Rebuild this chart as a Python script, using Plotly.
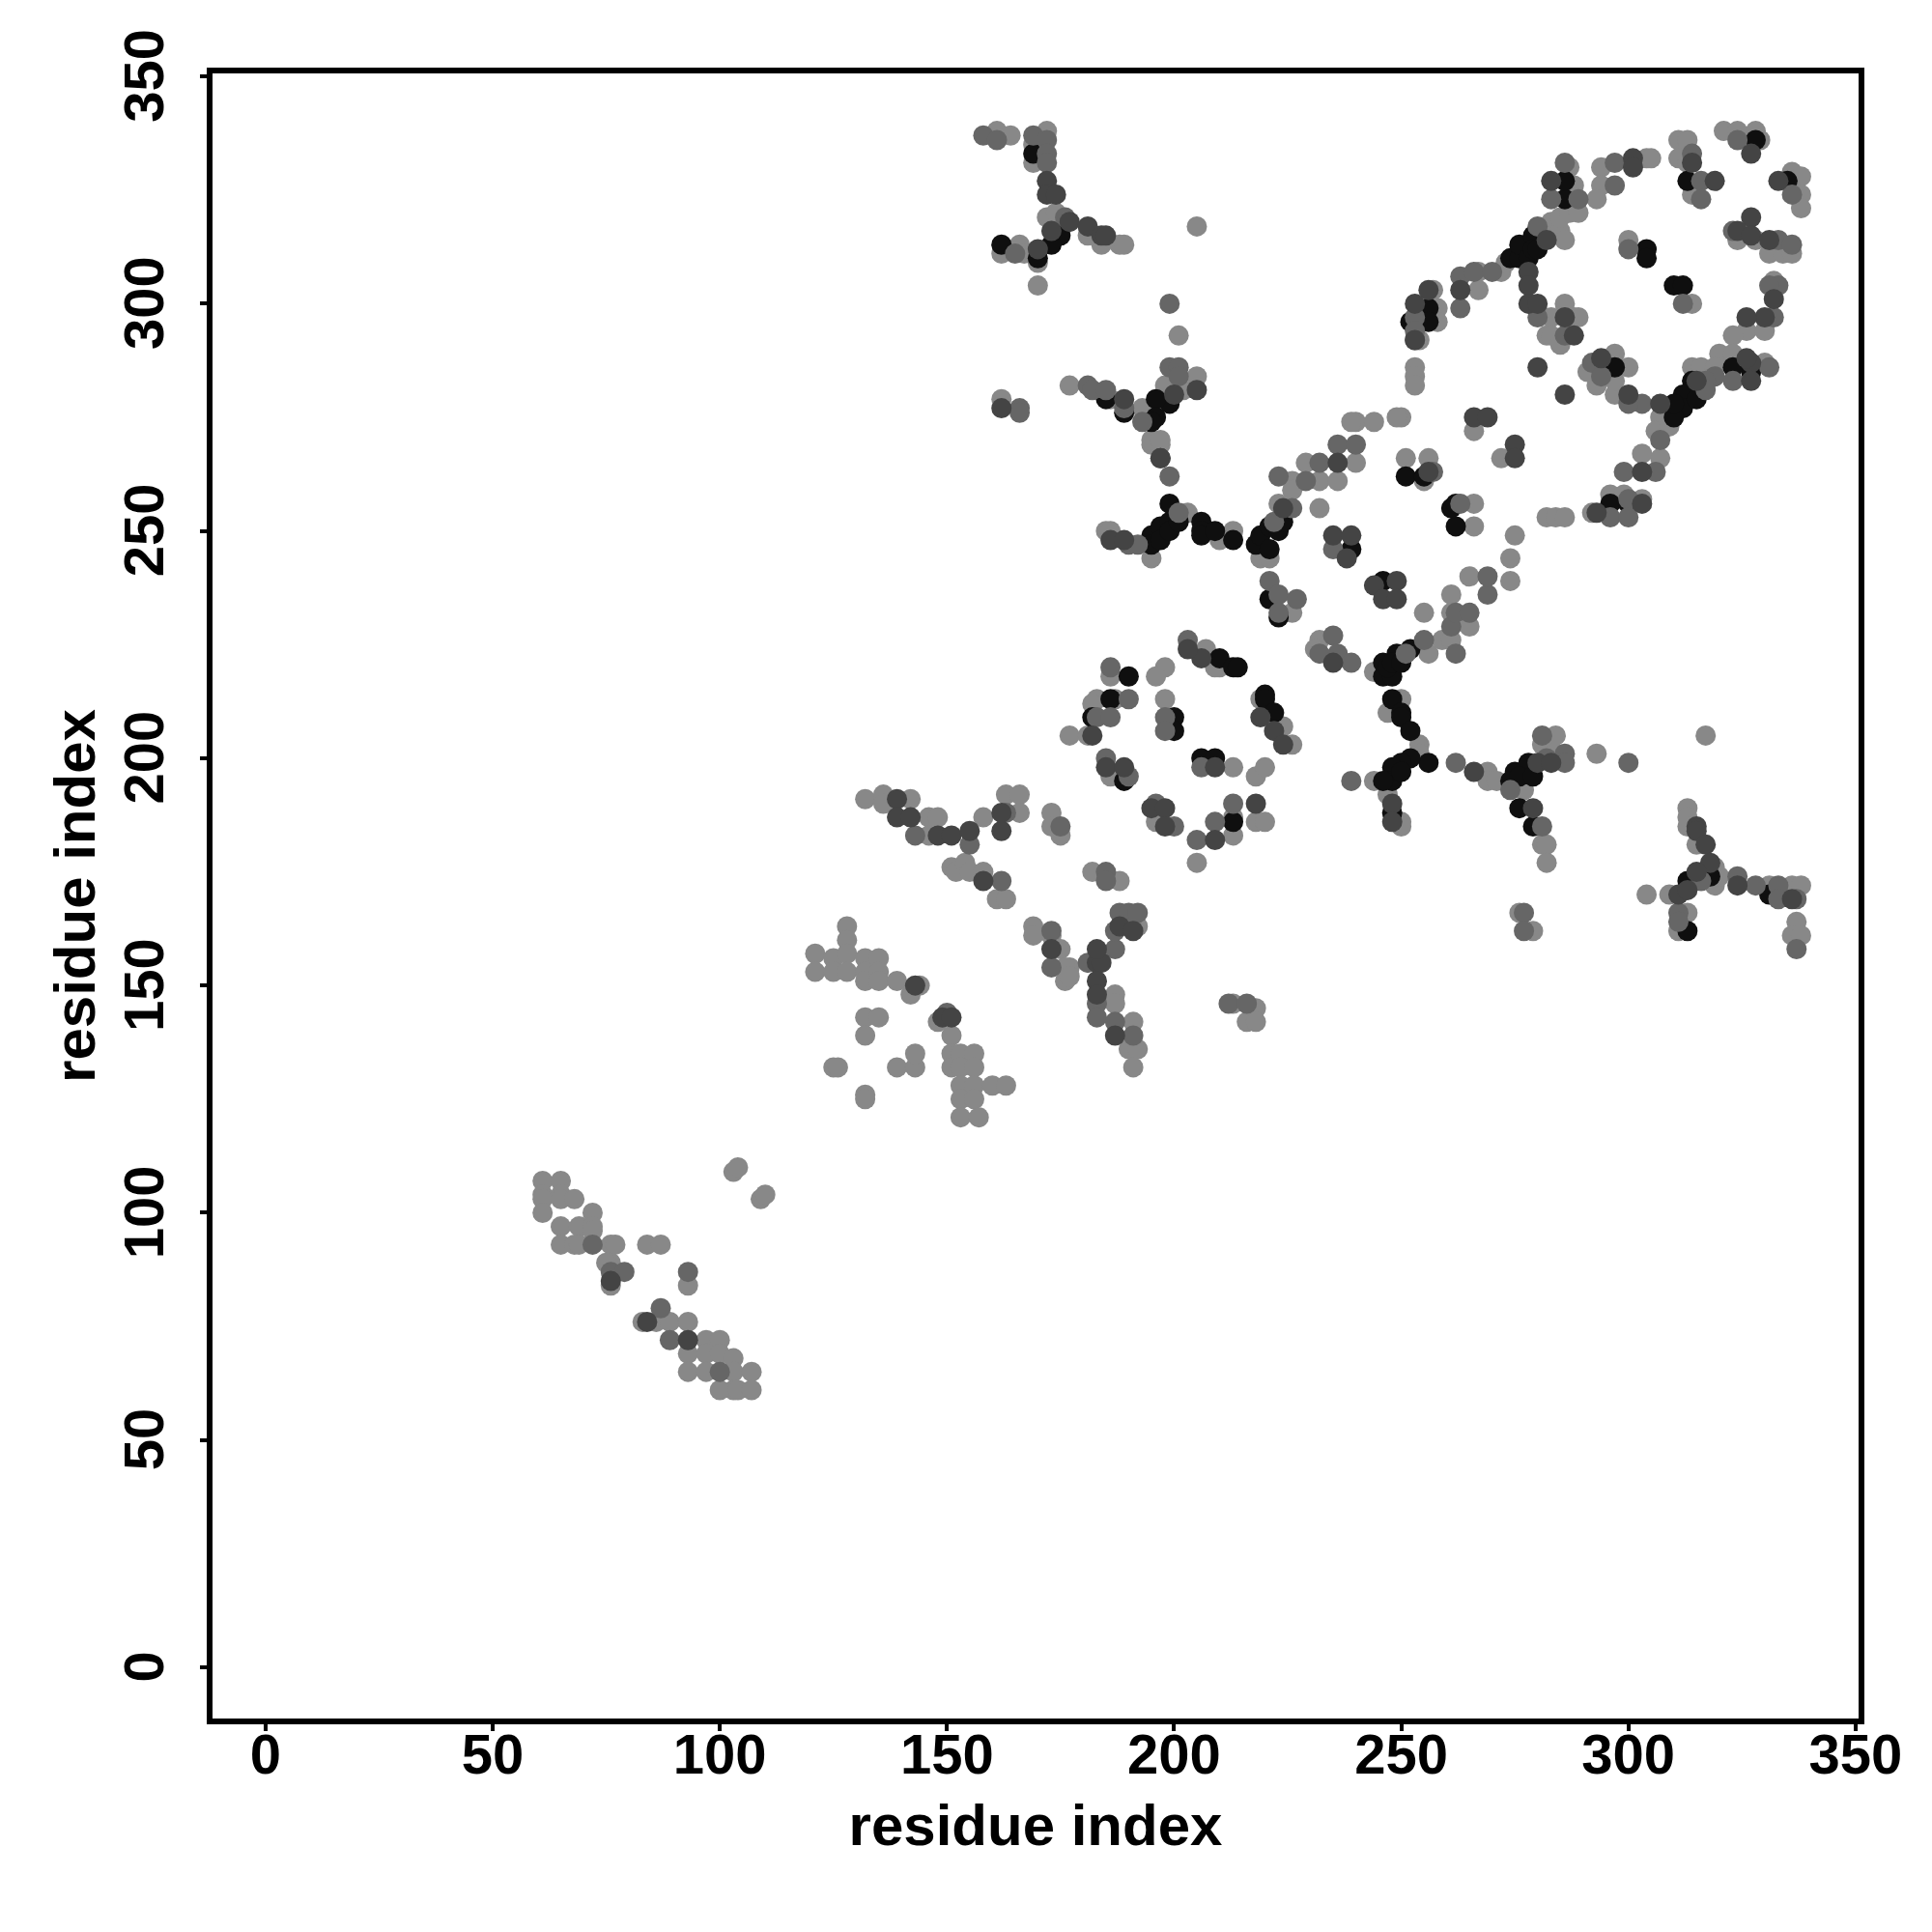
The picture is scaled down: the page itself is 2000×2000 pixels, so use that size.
import plotly.graph_objects as go

TICKS = [0, 50, 100, 150, 200, 250, 300, 350]
AXIS_LABEL = "residue index"

gray_points = [
(61,107),(61,104),(61,103),(61,100),(65,107),(65,104),(65,103),(65,97),(65,93),(68,103),(69,97),(68,93),(69,93),(72,100),(72,97),(72,96),(76,93),(77,93),(76,89),(75,89),(76,84),
(84,93),(87,93),(93,84),(83,76),(86,76),(89,76),(93,76),(93,69),(93,65),(97,72),(97,69),(97,65),(100,72),(100,69),(103,68),(103,65),(103,61),(100,61),(104,61),(107,65),(107,61),
(103,109),(104,110),(109,103),(110,104),
(132,191),(136,192),(136,190),(142,191),(146,187),(148,187),(146,183),(158,187),(163,192),(166,192),(166,188),
(173,188),(173,185),(175,183),(182,175),(188,173),(151,176),(152,175),(154,177),(155,175),(158,175),(161,169),(163,169),
(169,163),(169,161),(173,161),(175,158),(176,151),(177,154),(176,154),(177,152),(192,163),(187,148),(187,146),(191,142),(190,136),(192,136),(191,132),
(128,163),(128,160),(121,157),(121,153),(125,156),(125,153),(128,157),(128,153),(132,156),(132,153),(132,151),(135,156),(135,153),(135,151),(139,151),(144,150),(142,148),
(132,143),(135,143),(132,139),(148,142),(151,139),(151,135),(151,132),(153,135),(153,132),(156,135),(156,132),(153,128),(153,125),(156,128),(156,125),(160,128),(163,128),(153,121),(157,121),
(125,132),(126,132),(139,132),(143,132),(143,135),(132,126),(132,125),(213,146),(218,145),(216,142),(218,142),
(186,218),(198,220),(196,218),(207,224),(210,220),(209,220),(219,213),(224,207),(226,203),(198,213),(187,213),(183,213),(182,212),(177,205),(181,205),(186,196),
(213,198),(218,196),(220,198),(218,186),(220,186),(213,187),(213,183),(205,177),(196,186),
(195,269),(197,269),(195,244),(203,254),(210,248),(213,250),(185,250),(186,250),(219,244),(221,244),(223,256),(232,255),(226,261),(226,259),(229,265),(232,261),(236,261),(240,265),
(251,266),(256,266),(266,256),(266,251),(255,232),(226,232),(232,226),(231,224),(244,219),(256,223),(259,226),(261,226),(265,229),(261,232),(261,236),(265,240),
(257,303),(258,299),(258,296),(254,292),(253,286),(253,284),(253,282),(267,307),(267,303),(272,307),(273,309),(283,318),(285,316),(286,314),(285,319),(287,320),(289,320),(288,326),(287,330),
(283,297),(286,300),(288,297),(289,297),(282,293),(283,293),(285,291),(294,330),(294,326),(293,323),(304,332),(305,332),
(311,336),(313,336),(311,332),(313,331),(314,324),(321,338),(324,338),(328,338),(329,336),(336,329),(338,328),(338,324),(338,321),
(324,314),(328,314),(331,311),(334,311),(336,311),(300,314),(314,300),(266,272),(272,266),(250,275),(255,261),
(275,249),(274,244),(274,239),(332,305),(326,294),(330,294),(323,293),(320,289),(323,289),(330,287),(314,286),(316,286),(319,286),
(297,280),(307,275),(306,272),(307,266),(303,267),(309,273),(291,285),(293,282),(297,289),(300,286),(297,283),(296,288),
(296,258),(292,254),(299,258),(303,257),(282,253),(284,253),(286,253),
(161,338),(164,337),(172,338),(169,335),(169,331),(172,319),(174,320),(170,309),(170,304),(162,311),(166,313),(167,311),(181,315),(184,313),(188,313),(189,313),(205,317),
(201,293),(205,284),(202,281),(198,282),(177,282),(186,279),(193,277),(195,270),(197,270),(162,279),
(240,274),(239,274),(244,274),(249,275),(250,213),(247,210),(254,203),(254,201),(244,195),(247,192),(250,186),(250,185),
(269,197),(269,195),(271,195),(284,205),(281,203),(284,201),(277,193),(281,181),(282,181),(282,177),(293,201),(317,205),
(276,166),(279,162),(313,189),(313,187),(313,185),(315,181),(319,176),(319,172),(320,174),(331,172),(336,172),(338,172),
(304,170),(309,170),(313,166),(311,162),(337,164),(336,161),(338,161),
]

mid_points = [
(72,93),(76,87),(79,87),(93,87),(87,79),(89,72),(100,65),
(143,183),(155,181),(163,188),(175,185),(185,175),(185,173),(162,173),(173,162),(173,154),(181,155),(187,158),(187,162),(188,166),(190,166),(192,166),
(183,146),(183,143),(187,142),(191,139),(150,144),(212,146),(216,146),
(186,220),(203,226),(198,209),(198,206),(190,213),(183,209),(186,209),(185,200),(190,196),(206,198),(213,190),(209,186),(205,182),(196,190),(200,185),
(199,262),(201,254),(190,247),(192,247),(222,252),(226,255),(223,262),(229,261),(232,265),(236,269),(240,269),(257,263),(263,256),(235,246),
(221,239),(223,236),(227,235),(223,232),(235,227),(232,223),(236,223),(239,221),(251,223),(255,226),(262,223),(261,229),(262,232),(265,232),(269,236),(269,240),
(253,297),(253,294),(253,292),(263,306),(263,299),(266,307),(270,307),(280,317),(289,323),(283,323),(286,331),(280,297),(286,293),
(297,331),(297,326),(314,333),(316,327),(316,323),(324,336),(336,324),(323,316),(333,314),(336,313),(300,312),(312,300),
(333,304),(331,304),(332,297),(323,283),(331,286),(319,284),(317,283),(317,281),(303,278),(300,278),(307,270),(299,263),(306,263),
(292,287),(294,284),(300,257),(296,253),(300,253),
(158,337),(161,336),(169,337),(172,336),(172,333),(172,331),(176,319),(165,311),
(199,300),(199,286),(201,286),(201,284),(181,282),(182,281),(185,281),(189,277),(193,274),(166,277),(166,276),
(239,195),(262,199),(300,199),(281,205),(282,200),(286,201),(286,199),(274,193),(281,185),(277,166),(277,162),
(316,173),(324,174),(328,172),(333,172),(333,169),(337,169),(311,166),(311,164),(337,158),
]

dark_points = [
(76,85),(84,76),(93,72),
(139,191),(139,187),(142,187),(148,183),(151,183),(155,184),(158,173),(162,184),(162,188),
(173,158),(183,155),(184,155),(183,158),(188,163),(191,162),(183,151),(183,148),(187,139),(143,150),(149,143),(151,143),
(206,222),(203,224),(222,206),(224,203),(219,209),(182,205),(185,198),(189,198),(209,198),(218,190),(209,182),(195,189),(198,189),(198,185),
(197,266),(186,248),(189,248),(224,255),(236,265),(235,249),(239,249),(238,244),(256,263),
(244,238),(249,239),(246,235),(249,235),(235,221),
(256,303),(253,300),(253,292),(263,303),(282,314),(283,327),(278,307),(278,304),(278,300),(280,300),(288,293),(286,297),(280,286),(286,280),
(301,332),(301,330),(314,331),(319,327),(327,333),(333,327),(327,319),(324,316),(327,315),(331,314),
(266,275),(269,275),(275,269),(275,266),(332,301),(330,297),(326,297),(327,287),(326,288),(327,283),(315,283),(307,278),(300,280),(303,263),
(294,288),(293,254),(303,256),
(172,327),(172,324),(174,324),(177,318),(173,316),(170,312),(181,317),(184,315),(185,315),
(205,281),(200,280),(189,279),(197,266),(162,277),
(248,190),(248,186),(266,197),(280,199),(283,199),(279,189),
(315,185),(315,184),(317,181),(318,177),(315,175),(324,172),(336,169),(311,170),(313,171),
]

black_points = [
(190,218),(210,222),(213,220),(214,220),(220,214),(220,213),(222,210),(182,209),(186,213),(200,209),(200,206),(189,195),(206,200),(209,200),(213,186),
(199,256),(195,249),(195,247),(197,251),(197,248),(199,252),(199,250),(201,252),(206,252),(206,250),(206,249),(209,250),(213,248),
(218,247),(219,249),(221,246),(221,251),(223,250),(224,252),(251,262),(255,262),(262,251),(261,255),(246,239),(239,246),(221,235),(223,231),
(246,221),(246,218),(248,218),(247,220),(249,223),(248,221),(250,221),(252,224),
(256,299),(256,296),(252,296),(274,310),(276,310),(276,313),(278,310),(279,315),(279,312),(280,312),(286,323),(286,327),
(304,312),(304,310),(310,304),(312,304),(313,327),(328,336),(335,327),(331,170),(327,285),(323,286),
(314,283),(314,280),(312,280),(312,277),(310,275),(310,278),(315,279),(297,286),(296,256),(300,256),(262,256),
(169,333),(175,315),(173,313),(170,310),(162,313),(199,278),(196,279),(196,275),(195,274),(185,279),(189,276),
(248,213),(250,210),(250,209),(252,206),(256,199),(252,200),(250,199),(248,198),(248,195),(250,197),(246,195),(248,188),
(275,197),(274,195),(278,199),(276,196),(279,196),(276,189),(279,185),(313,173),(318,174),(313,162),
]

series = [
    (gray_points, "#888888"),
    (black_points, "#0f0f0f"),
    (mid_points, "#666666"),
    (dark_points, "#444444"),
]

fig = go.Figure()
for points, colour in series:
    fig.add_trace(go.Scatter(
        x=[p[0] for p in points], y=[p[1] for p in points], mode="markers",
        marker=dict(size=21, color=colour, line=dict(width=0)), showlegend=False))

axis = dict(
    tickmode="array", tickvals=TICKS, ticktext=[str(t) for t in TICKS],
    ticks="outside", ticklen=7, tickwidth=3.5, tickcolor="black",
    showgrid=False, zeroline=False, showline=True, linewidth=6, linecolor="black", mirror=True,
    tickfont=dict(family="Liberation Sans", size=58, color="black", weight="bold"),
)
title_font = dict(family="Liberation Sans", size=60, color="black", weight="bold")
fig.update_xaxes(range=[-11.66, 350.66], ticklabelstandoff=-26,
                 title=dict(text=AXIS_LABEL, standoff=23, font=title_font), **axis)
fig.update_yaxes(range=[-11.26, 350.66], tickangle=-90, ticklabelstandoff=15, ticklabelshift=8,
                 title=dict(text=AXIS_LABEL, standoff=0, font=title_font), **axis)
fig.update_layout(
    width=2000, height=2000, plot_bgcolor="white", paper_bgcolor="white",
    margin=dict(l=212, r=84, t=68, b=229, autoexpand=False),
    font=dict(family="Liberation Sans", color="black"),
)
fig.write_html("out.html")
